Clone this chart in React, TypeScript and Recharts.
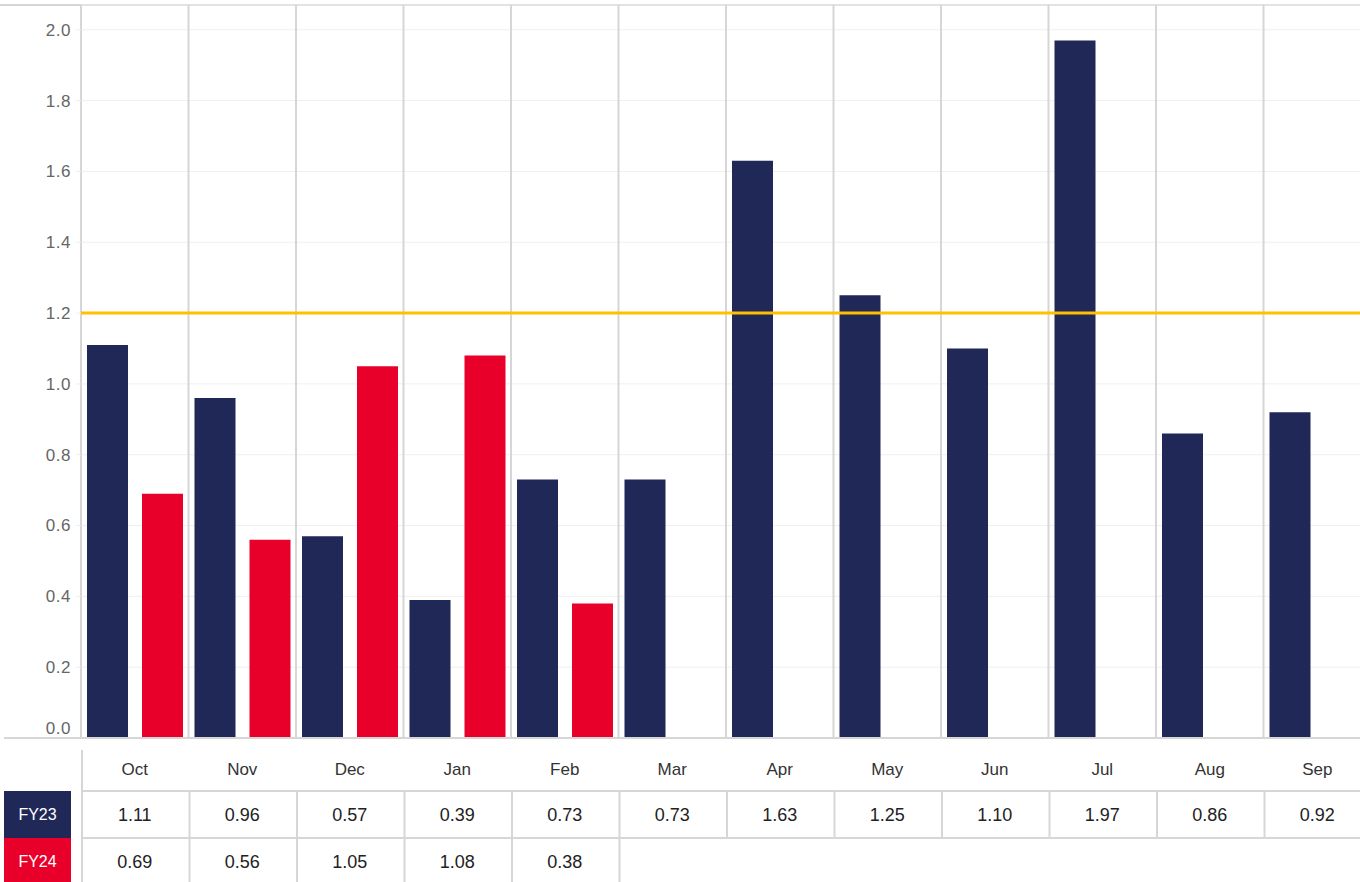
import React from 'react';
import { BarChart, Bar, XAxis, YAxis, CartesianGrid, ReferenceLine } from 'recharts';

// Monthly values by financial year
const MONTHS = ['Oct', 'Nov', 'Dec', 'Jan', 'Feb', 'Mar', 'Apr', 'May', 'Jun', 'Jul', 'Aug', 'Sep'];
const FY23 = [1.11, 0.96, 0.57, 0.39, 0.73, 0.73, 1.63, 1.25, 1.1, 1.97, 0.86, 0.92];
const FY24 = [0.69, 0.56, 1.05, 1.08, 0.38];
const SERIES_NAMES = ['FY23', 'FY24'];
const Y_TICKS = [0, 0.2, 0.4, 0.6, 0.8, 1.0, 1.2, 1.4, 1.6, 1.8, 2.0];
const Y_MAX = 2.07;
const TARGET = 1.2;

const NAVY = '#1f2857';
const RED = '#e9002a';
const GOLD = '#ffc000';
const LINE = '#d6d6d6';
const FONT = '"Liberation Sans", Arial, sans-serif';

const CHART_W = 1372;
const CHART_H = 890;
const Y_AXIS_W = 81;
const MARGIN = { top: 5, right: 1, bottom: 0, left: 0 };
const X_AXIS_H = 152;
const BAND = (CHART_W - Y_AXIS_W - MARGIN.left - MARGIN.right) / MONTHS.length;

const data = MONTHS.map((month, i) => ({
  month,
  fy23: FY23[i],
  fy24: i < FY24.length ? FY24[i] : null,
}));

const fmt = (v: number) => v.toFixed(2);

function YTick(props: any) {
  const { x, y, payload } = props;
  const shift = payload.value === 0 ? -10 : 0;
  return (
    <text x={x} y={y + shift} dy="0.35em" textAnchor="end" fill="#666" fontSize={17} letterSpacing={0.5} fontFamily={FONT}>
      {Number(payload.value).toFixed(1)}
    </text>
  );
}

// Data table drawn beneath each month: header, FY23 row, FY24 row
function TableTick(props: any) {
  const { x, y, index } = props;
  const left = x - BAND / 2 + 1;
  const right = x + BAND / 2 + 1;
  const r1Top = y + 53;
  const r1Bot = y + 100;
  const r2Bot = y + 147;
  const v23 = FY23[index];
  const v24 = index < FY24.length ? FY24[index] : undefined;
  return (
    <g>
      {index === 0 && (
        <g>
          <line x1={left - 78} x2={left} y1={y} y2={y} stroke={LINE} strokeWidth={2} />
          <line x1={left} x2={left} y1={y + 12} y2={r2Bot} stroke={LINE} strokeWidth={2} />
          <rect x={left - 78} y={r1Top} width={67} height={r1Bot - r1Top} fill={NAVY} />
          <rect x={left - 78} y={r1Bot} width={67} height={r2Bot - r1Bot} fill={RED} />
          <text x={left - 44.5} y={(r1Top + r1Bot) / 2} dy="0.35em" textAnchor="middle" fill="#fff" fontSize={16} fontFamily={FONT}>
            {SERIES_NAMES[0]}
          </text>
          <text x={left - 44.5} y={(r1Bot + r2Bot) / 2} dy="0.35em" textAnchor="middle" fill="#fff" fontSize={16} fontFamily={FONT}>
            {SERIES_NAMES[1]}
          </text>
        </g>
      )}
      <text x={x} y={y + 31} dy="0.35em" textAnchor="middle" fill="#333" fontSize={17} fontFamily={FONT}>
        {MONTHS[index]}
      </text>
      <line x1={left} x2={right} y1={r1Top} y2={r1Top} stroke={LINE} strokeWidth={2} />
      <line x1={left} x2={right} y1={r1Bot} y2={r1Bot} stroke={LINE} strokeWidth={2} />
      <line x1={right} x2={right} y1={r1Top} y2={v24 !== undefined || index === FY24.length - 1 ? r2Bot : r1Bot} stroke={LINE} strokeWidth={2} />
      <text x={x} y={(r1Top + r1Bot) / 2} dy="0.35em" textAnchor="middle" fill="#222" fontSize={18} fontFamily={FONT}>
        {fmt(v23)}
      </text>
      {v24 !== undefined && (
        <g>
          <line x1={left} x2={right} y1={r2Bot} y2={r2Bot} stroke={LINE} strokeWidth={2} />
          <text x={x} y={(r1Bot + r2Bot) / 2} dy="0.35em" textAnchor="middle" fill="#222" fontSize={18} fontFamily={FONT}>
            {fmt(v24)}
          </text>
        </g>
      )}
    </g>
  );
}

export default function App() {
  return (
    <div style={{ position: 'absolute', left: 0, top: 0, width: 1360, height: 882, overflow: 'hidden', background: '#fff' }}>
      <div style={{ position: 'absolute', left: 0, top: 4, width: '100%', height: 2, background: LINE }} />
      <BarChart
        width={CHART_W}
        height={CHART_H}
        data={data}
        margin={MARGIN}
        barCategoryGap={6}
        barGap={14}
      >
        <CartesianGrid horizontal vertical={false} stroke="#efefef" strokeWidth={1} />
        <CartesianGrid
          horizontal={false}
          vertical
          stroke={LINE}
          strokeWidth={2}
          verticalCoordinatesGenerator={({ offset }: any) =>
            Array.from({ length: MONTHS.length + 1 }, (_, i) => offset.left + (i * offset.width) / MONTHS.length)
          }
        />
        <XAxis
          dataKey="month"
          interval={0}
          height={X_AXIS_H}
          tickLine={false}
          tickSize={0}
          tickMargin={0}
          axisLine={{ stroke: LINE, strokeWidth: 2 }}
          tick={<TableTick />}
        />
        <YAxis
          width={Y_AXIS_W}
          domain={[0, Y_MAX]}
          ticks={Y_TICKS}
          axisLine={false}
          tickSize={5}
          tickMargin={5}
          tickLine={{ stroke: '#eeeeee' }}
          tick={<YTick />}
        />
        <Bar dataKey="fy23" name={SERIES_NAMES[0]} fill={NAVY} isAnimationActive={false} />
        <Bar dataKey="fy24" name={SERIES_NAMES[1]} fill={RED} isAnimationActive={false} />
        <ReferenceLine y={TARGET} stroke={GOLD} strokeWidth={3} />
      </BarChart>
    </div>
  );
}
